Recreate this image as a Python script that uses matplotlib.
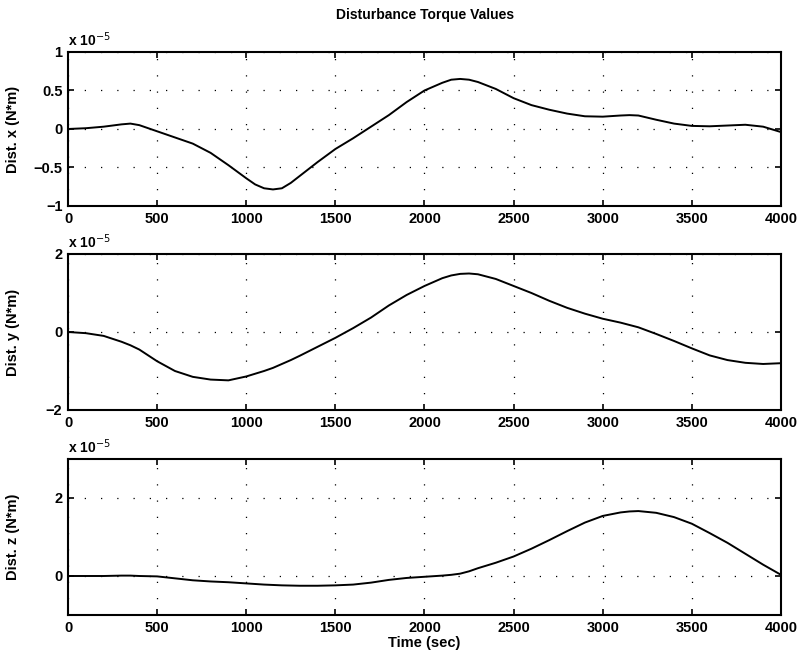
import numpy as np
import matplotlib
matplotlib.use("Agg")
import matplotlib.pyplot as plt

plt.rcParams["font.family"] = ["Liberation Sans", "DejaVu Sans"]

# time base (sec) and disturbance torques in units of 1e-5 N*m
time_s = [0, 100, 200, 300, 350, 400, 500, 600, 700, 800, 900, 1000, 1050, 1100, 1150,
          1200, 1250, 1300, 1400, 1500, 1600, 1700, 1800, 1900, 2000, 2100, 2150, 2200,
          2250, 2300, 2400, 2500, 2600, 2700, 2800, 2900, 3000, 3100, 3150, 3200, 3300,
          3400, 3500, 3600, 3700, 3800, 3900, 4000]

dist_x = [0.0, 0.01, 0.03, 0.06, 0.07, 0.05, -0.03, -0.11, -0.19, -0.31, -0.47, -0.64,
          -0.72, -0.77, -0.785, -0.77, -0.7, -0.61, -0.43, -0.26, -0.12, 0.03, 0.18,
          0.35, 0.5, 0.6, 0.64, 0.65, 0.64, 0.61, 0.52, 0.40, 0.31, 0.25, 0.2, 0.165,
          0.16, 0.175, 0.18, 0.175, 0.12, 0.07, 0.04, 0.035, 0.045, 0.055, 0.03, -0.04]

dist_y = [0.0, -0.03, -0.1, -0.25, -0.34, -0.45, -0.75, -1.0, -1.15, -1.22, -1.24, -1.14,
          -1.07, -1.0, -0.92, -0.82, -0.72, -0.61, -0.38, -0.15, 0.1, 0.37, 0.68, 0.95,
          1.18, 1.38, 1.45, 1.49, 1.5, 1.48, 1.36, 1.18, 1.0, 0.8, 0.62, 0.47, 0.34, 0.24,
          0.18, 0.12, -0.05, -0.23, -0.42, -0.6, -0.72, -0.79, -0.82, -0.8]

dist_z = [0.0, 0.0, 0.0, 0.01, 0.01, 0.0, -0.01, -0.06, -0.11, -0.14, -0.16, -0.19,
          -0.205, -0.22, -0.23, -0.24, -0.245, -0.25, -0.25, -0.24, -0.22, -0.17, -0.1,
          -0.05, -0.02, 0.01, 0.03, 0.06, 0.12, 0.2, 0.34, 0.5, 0.7, 0.92, 1.15, 1.37,
          1.54, 1.63, 1.655, 1.665, 1.62, 1.51, 1.34, 1.1, 0.85, 0.57, 0.29, 0.03]

panels = [
    (dist_x, "Dist. x (N*m)", (-1, 1), [-1, -0.5, 0, 0.5, 1], ["\u22121", "\u22120.5", "0", "0.5", "1"]),
    (dist_y, "Dist. y (N*m)", (-2, 2), [-2, 0, 2], ["\u22122", "0", "2"]),
    (dist_z, "Dist. z (N*m)", (-1, 3), [0, 2], ["0", "2"]),
]

fig = plt.figure(figsize=(8.02, 6.63), dpi=100)

# axes rectangles in figure fractions
rects = [
    (0.0848, 0.6893, 0.889, 0.2323),
    (0.0848, 0.3816, 0.889, 0.2353),
    (0.0848, 0.0724, 0.889, 0.2353),
]

xticks = np.arange(0, 4001, 500)

for i, ((vals, ylab, ylim, yt, ytl), rect) in enumerate(zip(panels, rects)):
    ax = fig.add_axes(rect)
    ax.plot(time_s, vals, color="black", linewidth=1.4, solid_joinstyle="round")
    ax.set_xlim(0, 4000)
    ax.set_ylim(*ylim)
    ax.set_xticks(xticks)
    ax.set_xticklabels([str(t) for t in xticks], fontsize=10.5, fontweight="bold")
    ax.set_yticks(yt)
    ax.set_yticklabels(ytl, fontsize=10.5, fontweight="bold")
    ax.tick_params(direction="in", length=4, width=1.2, top=True, right=True, pad=4)
    ax.grid(True, color="black", linestyle=(0, (1, 12)), linewidth=0.9)
    for s in ax.spines.values():
        s.set_linewidth(1.5)
    ax.set_ylabel(ylab, fontsize=10.5, fontweight="bold")
    ax.yaxis.set_label_coords(-0.068, 0.5)
    ax.text(0.0, 1.02, r"x 10$^{-5}$", transform=ax.transAxes, fontsize=10,
            fontweight="bold", ha="left", va="bottom")
    if i == 2:
        ax.set_xlabel("Time (sec)", fontsize=10.5, fontweight="bold", labelpad=1)

fig.text(0.53, 0.977, "Disturbance Torque Values", ha="center", va="center",
         fontsize=10, fontweight="bold")

fig.savefig("out.png", dpi=100, facecolor="white")
